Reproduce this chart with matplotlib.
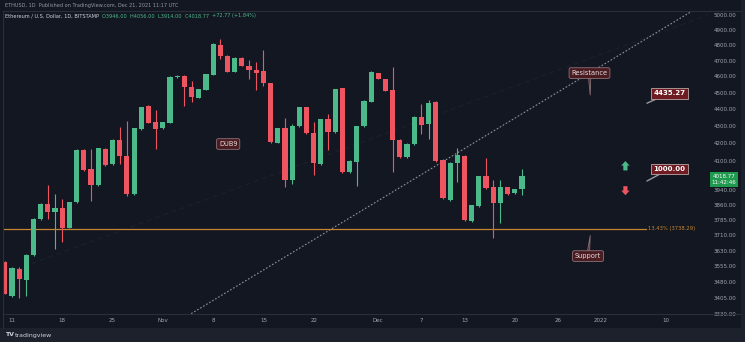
import numpy as np
import pandas as pd
import matplotlib
matplotlib.use("Agg")
import matplotlib.pyplot as plt
import matplotlib.dates as mdates
import matplotlib.transforms as mtransforms
from matplotlib.patches import Rectangle
from matplotlib.lines import Line2D
from matplotlib.ticker import NullLocator, NullFormatter

# ETH/USD daily candles, 10 Oct - 21 Dec 2021
dates = pd.date_range("2021-10-10", periods=73, freq="D")
opens = [3575, 3413, 3541, 3487, 3607, 3789, 3867, 3827, 3845, 3745,
         3877, 4162, 4056, 3968, 4168, 4083, 4219, 4128, 3919, 4282,
         4419, 4323, 4288, 4318, 4596, 4603, 4534, 4467, 4516, 4609,
         4801, 4730, 4628, 4717, 4666, 4640, 4634, 4559, 4202, 4288,
         3995, 4300, 4412, 4259, 4083, 4341, 4265, 4528, 4039, 4094,
         4300, 4443, 4621, 4584, 4516, 4219, 4122, 4196, 4353, 4312,
         4443, 4106, 3888, 4089, 4128, 3779, 3856, 4017, 3957, 3872,
         3957, 3925, 3946]
highs = [3580, 3550, 3551, 3612, 3792, 3870, 3968, 3920, 3893, 3880,
         4165, 4165, 4168, 4176, 4171, 4222, 4294, 4329, 4291, 4415,
         4422, 4395, 4326, 4600, 4606, 4609, 4572, 4525, 4618, 4812,
         4840, 4733, 4720, 4720, 4704, 4691, 4768, 4562, 4291, 4347,
         4312, 4415, 4415, 4323, 4344, 4371, 4525, 4531, 4103, 4303,
         4452, 4631, 4624, 4587, 4659, 4222, 4199, 4356, 4431, 4455,
         4446, 4109, 4092, 4173, 4131, 3864, 4020, 4117, 3995, 3995,
         3960, 3949, 4056]
lows = [3420, 3410, 3404, 3413, 3603, 3786, 3789, 3637, 3673, 3742,
        3873, 4047, 3882, 3965, 4075, 4080, 4083, 3910, 3916, 4279,
        4315, 4168, 4285, 4315, 4593, 4419, 4443, 4464, 4513, 4606,
        4710, 4625, 4625, 4663, 4584, 4516, 4540, 4204, 4199, 3957,
        3973, 4297, 4256, 4022, 4080, 4162, 4262, 4036, 4036, 3962,
        4297, 4440, 4581, 4507, 4039, 4119, 4119, 4193, 4253, 4225,
        4097, 3895, 3885, 3984, 3781, 3776, 3853, 3948, 3692, 3769,
        3916, 3922, 3914]
closes = [3424, 3546, 3490, 3607, 3789, 3867, 3827, 3845, 3745, 3877,
          4162, 4050, 3968, 4173, 4078, 4219, 4128, 3919, 4288, 4412,
          4318, 4282, 4323, 4596, 4603, 4534, 4473, 4522, 4615, 4808,
          4730, 4628, 4717, 4666, 4642, 4621, 4559, 4207, 4288, 3995,
          4300, 4412, 4259, 4089, 4341, 4265, 4522, 4039, 4100, 4300,
          4449, 4628, 4584, 4510, 4219, 4122, 4196, 4353, 4306, 4437,
          4100, 3898, 4089, 4134, 3784, 3861, 4017, 3951, 3872, 3957,
          3919, 3946, 4018.77]

price_ticks = [5000, 4900, 4800, 4700, 4600, 4500, 4400, 4300, 4200, 4100,
               3940, 3860, 3785, 3710, 3630, 3555, 3480, 3405, 3330]
date_ticks = ["2021-10-11", "2021-10-18", "2021-10-25", "2021-11-01",
              "2021-11-08", "2021-11-15", "2021-11-22", "2021-12-01",
              "2021-12-07", "2021-12-13", "2021-12-20", "2021-12-26",
              "2022-01-01", "2022-01-10"]
date_labels = ["11", "18", "25", "Nov", "8", "15", "22", "Dec",
               "7", "13", "20", "26", "2022", "10"]

# drawings
resistance_pts = [("2021-11-11 18:00", 3468), ("2021-12-16 13:40", 4259)]
channel_pts = [("2021-10-13 22:00", 3569), ("2021-12-16 14:00", 4485)]
support_price = 3738.29
support_text = "13.43% (3738.29)"
target_price = 4435.27
lower_text = "1000.00"
timer_text = "11:42:46"

BG = "#131722"
UP = "#4cb98a"
DOWN = "#ef5461"
TXT = "#a3a6af"
GRID = "#2a2e39"

fig = plt.figure(figsize=(7.45, 3.42), dpi=100, facecolor=BG)
W, H = 745, 342


def fx(px):
    return px / W


def fy(py):
    return 1 - py / H


# footer strip and panel frame
fig.patches.append(Rectangle((0, 0), 1, fy(328), transform=fig.transFigure,
                             facecolor="#1d212c", edgecolor="none", zorder=0))
fig.patches.append(Rectangle((fx(741), 0), 1, 1, transform=fig.transFigure,
                             facecolor="#1d212c", edgecolor="none", zorder=0))
fig.lines.append(Line2D([fx(3), fx(741)], [fy(314), fy(314)], transform=fig.transFigure,
                        color=GRID, lw=0.8))
fig.lines.append(Line2D([fx(3), fx(741)], [fy(11), fy(11)], transform=fig.transFigure,
                        color=GRID, lw=0.8))
fig.lines.append(Line2D([fx(3), fx(3)], [fy(11), fy(328)], transform=fig.transFigure,
                        color=GRID, lw=0.8))

ax = fig.add_axes([fx(3), fy(314), fx(705), 303 / H])
ax.set_facecolor(BG)
ax.set_yscale("log")
ax.set_ylim(3330, 5028)
x0 = mdates.date2num(pd.Timestamp("2021-10-11"))
ax.set_xlim(x0 - 1.25, x0 + 96.9)

x = mdates.date2num(dates)
o = np.array(opens, dtype=float)
c = np.array(closes, dtype=float)
colors = [UP if cc >= oo else DOWN for oo, cc in zip(o, c)]
ax.vlines(x, lows, highs, colors=colors, lw=0.8, zorder=3)
ax.bar(x, np.abs(c - o), bottom=np.minimum(o, c), width=0.72, color=colors,
       linewidth=0, zorder=4)


def log_line(pts, d_from, d_to, **kw):
    (t1, p1), (t2, p2) = pts
    a = mdates.date2num(pd.Timestamp(t1))
    b = mdates.date2num(pd.Timestamp(t2))
    k = (np.log(p2) - np.log(p1)) / (b - a)
    xs = np.array([x0 + d_from, x0 + d_to])
    ax.plot(xs, np.exp(np.log(p1) + k * (xs - a)), **kw)


log_line(channel_pts, -5, 110, color="#1c202b", lw=0.9, ls=(0, (4, 3)), zorder=1)
log_line(resistance_pts, 20, 110, color="#8a8d96", lw=0.9, ls=(0, (0.6, 2.2)),
         dash_capstyle="round", zorder=2)

# support line with label
ax.plot([x0 - 1.25, x0 + 88.2], [support_price] * 2, color="#c4862f", lw=0.9, zorder=2)
ax.text(x0 + 88.6, support_price, support_text, color="#c4862f", fontsize=3.8,
        va="center", ha="left")

# callouts
box_red = dict(boxstyle="round,pad=0.35,rounding_size=0.25", fc="#4a1b21", ec="#8c7377", lw=0.6)
wedge = dict(arrowstyle="wedge,tail_width=0.3,shrink_factor=0.5", fc="#4a1b21",
             ec="#8c7377", lw=0.6, shrinkA=0, shrinkB=0)
ax.annotate("Resistance", xy=(x0 + 80.5, 4485), xytext=(x0 + 80.4, 4621),
            ha="center", va="center", fontsize=4.8, color="#e6dcdc",
            bbox=box_red, arrowprops=wedge, zorder=6)
ax.annotate("Support", xy=(x0 + 80.5, 3705), xytext=(x0 + 80.2, 3603),
            ha="center", va="center", fontsize=4.8, color="#e6dcdc",
            bbox=box_red, arrowprops=wedge, zorder=6)
ax.text(x0 + 30.1, 4196, "DUB9", ha="center", va="center", fontsize=4.8,
        color="#e6dcdc", bbox=box_red, zorder=6)

box_lbl = dict(boxstyle="square,pad=0.35", fc="#6e1c22", ec="#b9a4a6", lw=0.6)
pointer = dict(arrowstyle="-", color="#9598a1", lw=1.0, shrinkA=0, shrinkB=0)
ax.annotate(f"{target_price:.2f}", xy=(x0 + 88.4, target_price), xytext=(x0 + 89.3, 4497),
            ha="left", va="center", fontsize=5, fontweight="bold", color="white",
            bbox=box_lbl, arrowprops=pointer, zorder=6)
ax.annotate(lower_text, xy=(x0 + 88.4, 3990), xytext=(x0 + 89.3, 4056),
            ha="left", va="center", fontsize=5, fontweight="bold", color="white",
            bbox=box_lbl, arrowprops=pointer, zorder=6)

# buy / sell arrows
arrow_kw = dict(arrowstyle="simple,head_length=0.55,head_width=1.0,tail_width=0.5",
                mutation_scale=6, lw=0, shrinkA=0, shrinkB=0)
ax.annotate("", xy=(x0 + 85.4, 4100), xytext=(x0 + 85.4, 4048),
            arrowprops=dict(fc=UP, **arrow_kw))
ax.annotate("", xy=(x0 + 85.4, 3914), xytext=(x0 + 85.4, 3962),
            arrowprops=dict(fc=DOWN, **arrow_kw))

# price axis
ax.yaxis.tick_right()
ax.set_yticks(price_ticks)
ax.set_yticklabels([f"{p:.2f}" for p in price_ticks])
ax.yaxis.set_minor_locator(NullLocator())
ax.yaxis.set_minor_formatter(NullFormatter())
ax.tick_params(axis="y", length=0, pad=4, labelsize=4, labelcolor=TXT)

# last price tag
blend = mtransforms.blended_transform_factory(ax.transAxes, ax.transData)
ax.annotate(f"{closes[-1]:.2f}\n{timer_text}", xy=(1.0225, closes[-1]), xycoords=blend,
            xytext=(0, -2.6), textcoords="offset points", ha="center", va="center",
            fontsize=4, color="white", linespacing=1.25,
            bbox=dict(boxstyle="square,pad=0.3", fc="#1f994e", ec="none"),
            annotation_clip=False, zorder=8)

# time axis
ax.set_xticks([mdates.date2num(pd.Timestamp(d)) for d in date_ticks])
ax.set_xticklabels(date_labels)
ax.tick_params(axis="x", length=0, pad=3, labelsize=4, labelcolor=TXT)
for s in ax.spines.values():
    s.set_visible(False)

# header
fig.text(fx(5), fy(5), "ETHUSD, 1D  Published on TradingView.com, Dec 21, 2021 11:17 UTC",
         fontsize=3.6, color="#9598a1", va="center")
renderer = fig.canvas.get_renderer()
chg = closes[-1] - closes[-2]
parts = [("Ethereum / U.S. Dollar, 1D, BITSTAMP  ", "#d1d4dc"),
         (f"O{opens[-1]:.2f}  ", UP), (f"H{highs[-1]:.2f}  ", UP),
         (f"L{lows[-1]:.2f}  ", UP), (f"C{closes[-1]:.2f}  ", UP),
         (f"+{chg:.2f} (+{chg / closes[-2] * 100:.2f}%)", UP)]
xpos = fx(5)
for s, col in parts:
    t = fig.text(xpos, fy(16), s, fontsize=3.6, color=col, va="center")
    bb = t.get_window_extent(renderer)
    xpos += bb.width / (W * fig.dpi / 100)

# footer logo
fig.text(fx(5), fy(335), "TV", fontsize=4.5, fontweight="bold", color="#d1d4dc", va="center")
fig.text(fx(15), fy(335), "tradingview", fontsize=4.5, color="#d1d4dc", va="center")

fig.savefig("out.png", dpi=100, facecolor=fig.get_facecolor())
